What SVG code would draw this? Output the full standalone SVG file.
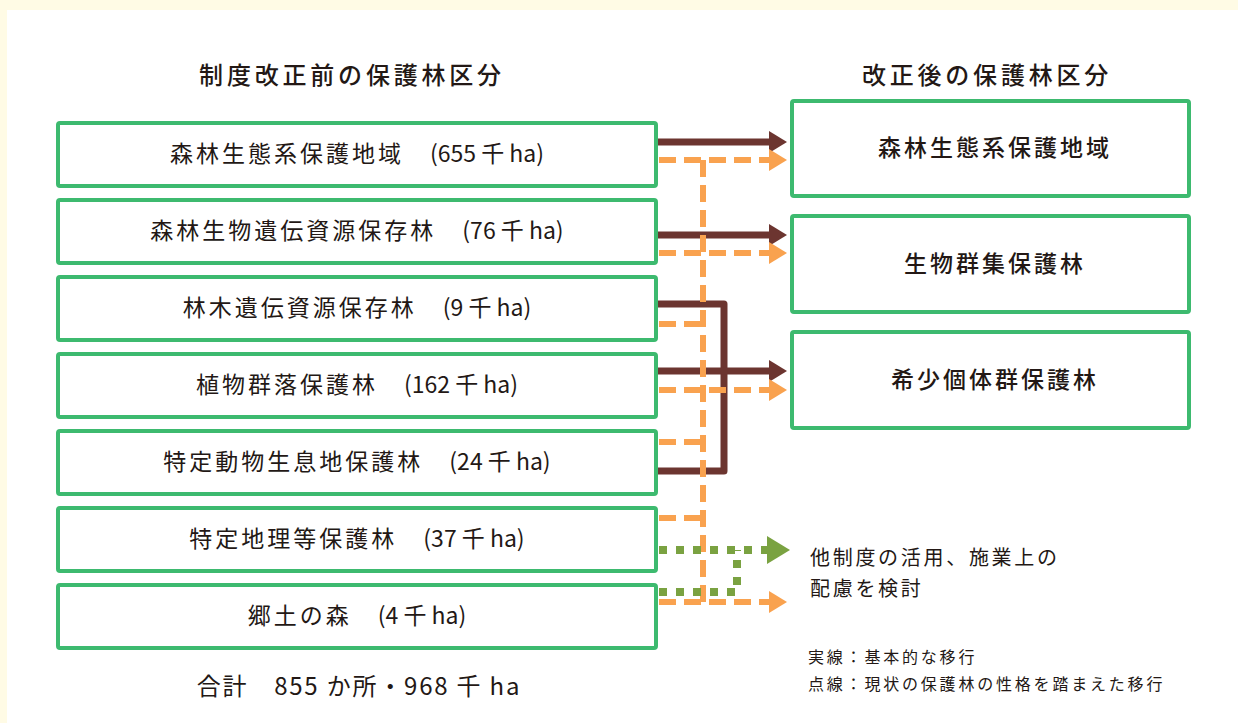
<svg xmlns="http://www.w3.org/2000/svg" width="1238" height="723" viewBox="0 0 1238 723">
  <style>
    .bg { fill: #fffbe5; }
    .panel { fill: #ffffff; }
    .box { fill: #ffffff; stroke: #3dba6f; stroke-width: 4; }
    .t { font-family: "Noto Sans CJK JP", "Noto Sans", sans-serif; fill: #231815; }
    .title { font-size: 24px; letter-spacing: 3.8px; font-weight: 500; }
    .lbl { font-size: 23px; }
    .jp { letter-spacing: 3px; }
    .num { letter-spacing: 0px; }
    .total { font-size: 24px; letter-spacing: 1.8px; }
    .rlbl { font-size: 23px; letter-spacing: 3px; font-weight: 500; }
    .note { font-size: 20px; letter-spacing: 2.7px; }
    .legend { font-size: 16px; letter-spacing: 2.8px; }
    .solid { fill: none; stroke: #6c3530; stroke-width: 7; stroke-linejoin: round; }
    .dash { fill: none; stroke: #f9a24f; stroke-width: 6; stroke-dasharray: 17 8; }
    .dot { fill: none; stroke: #7aa241; stroke-width: 8; stroke-dasharray: 8 9; }
  </style>
  <defs>
    <marker id="ahBrown" markerUnits="userSpaceOnUse" markerWidth="20" markerHeight="24" refX="0" refY="11" orient="auto">
      <path d="M0,0 L18,11 L0,22 z" fill="#6c3530"/>
    </marker>
    <marker id="ahOrange" markerUnits="userSpaceOnUse" markerWidth="20" markerHeight="24" refX="0" refY="11" orient="auto">
      <path d="M0,0 L18,11 L0,22 z" fill="#f9a24f"/>
    </marker>
    <marker id="ahGreen" markerUnits="userSpaceOnUse" markerWidth="26" markerHeight="30" refX="0" refY="14" orient="auto">
      <path d="M0,0 L23,14 L0,28 z" fill="#7aa241"/>
    </marker>
  </defs>

  <rect class="bg" x="0" y="0" width="1238" height="723"/>
  <rect class="panel" x="7" y="10" width="1231" height="713"/>

  <text class="t title" x="352" y="84" text-anchor="middle">制度改正前の保護林区分</text>
  <text class="t title" x="987" y="84" text-anchor="middle">改正後の保護林区分</text>

  <g id="connectors">
    <!-- solid: basic transitions -->
    <line class="solid" x1="658" y1="142" x2="769" y2="142" marker-end="url(#ahBrown)"/>
    <line class="solid" x1="658" y1="235" x2="769" y2="235" marker-end="url(#ahBrown)"/>
    <path class="solid" d="M658,304 H724 V471 H658"/>
    <line class="solid" x1="658" y1="371" x2="769" y2="371" marker-end="url(#ahBrown)"/>
    <!-- dashed: transitions considering character -->
    <line class="dash" x1="659" y1="160" x2="769" y2="160" marker-end="url(#ahOrange)"/>
    <line class="dash" x1="659" y1="253" x2="769" y2="253" marker-end="url(#ahOrange)"/>
    <line class="dash" x1="659" y1="390" x2="769" y2="390" marker-end="url(#ahOrange)"/>
    <line class="dash" x1="659" y1="602" x2="769" y2="602" marker-end="url(#ahOrange)"/>
    <line class="dash" x1="703" y1="160" x2="703" y2="602"/>
    <line class="dash" x1="659" y1="324" x2="703" y2="324"/>
    <line class="dash" x1="659" y1="442" x2="703" y2="442"/>
    <line class="dash" x1="659" y1="518" x2="703" y2="518"/>
    <!-- dotted: other systems -->
    <line class="dot" x1="659" y1="550" x2="767" y2="550" marker-end="url(#ahGreen)"/>
    <path class="dot" d="M659,592 H737 V550"/>
  </g>

  <g id="old-1">
    <rect class="box" x="58" y="123" width="598" height="63" rx="2"/>
    <text class="t lbl" x="357" y="162" text-anchor="middle"><tspan class="jp">森林生態系保護地域　</tspan><tspan class="num">(655 千 ha)</tspan></text>
  </g>
  <g id="old-2">
    <rect class="box" x="58" y="200" width="598" height="63" rx="2"/>
    <text class="t lbl" x="357" y="239" text-anchor="middle"><tspan class="jp">森林生物遺伝資源保存林　</tspan><tspan class="num">(76 千 ha)</tspan></text>
  </g>
  <g id="old-3">
    <rect class="box" x="58" y="277" width="598" height="63" rx="2"/>
    <text class="t lbl" x="357" y="316" text-anchor="middle"><tspan class="jp">林木遺伝資源保存林　</tspan><tspan class="num">(9 千 ha)</tspan></text>
  </g>
  <g id="old-4">
    <rect class="box" x="58" y="354" width="598" height="63" rx="2"/>
    <text class="t lbl" x="357" y="393" text-anchor="middle"><tspan class="jp">植物群落保護林　</tspan><tspan class="num">(162 千 ha)</tspan></text>
  </g>
  <g id="old-5">
    <rect class="box" x="58" y="431" width="598" height="63" rx="2"/>
    <text class="t lbl" x="357" y="470" text-anchor="middle"><tspan class="jp">特定動物生息地保護林　</tspan><tspan class="num">(24 千 ha)</tspan></text>
  </g>
  <g id="old-6">
    <rect class="box" x="58" y="508" width="598" height="63" rx="2"/>
    <text class="t lbl" x="357" y="547" text-anchor="middle"><tspan class="jp">特定地理等保護林　</tspan><tspan class="num">(37 千 ha)</tspan></text>
  </g>
  <g id="old-7">
    <rect class="box" x="58" y="585" width="598" height="63" rx="2"/>
    <text class="t lbl" x="357" y="624" text-anchor="middle"><tspan class="jp">郷土の森　</tspan><tspan class="num">(4 千 ha)</tspan></text>
  </g>

  <text class="t total" x="359" y="695" text-anchor="middle">合計　855 か所・968 千 ha</text>

  <g id="new-1">
    <rect class="box" x="792" y="101" width="397" height="95" rx="2"/>
    <text class="t rlbl" x="995" y="156" text-anchor="middle">森林生態系保護地域</text>
  </g>
  <g id="new-2">
    <rect class="box" x="792" y="216" width="397" height="96" rx="2"/>
    <text class="t rlbl" x="995" y="272" text-anchor="middle">生物群集保護林</text>
  </g>
  <g id="new-3">
    <rect class="box" x="792" y="332" width="397" height="96" rx="2"/>
    <text class="t rlbl" x="995" y="388" text-anchor="middle">希少個体群保護林</text>
  </g>

  <g id="note-other">
    <text class="t note" x="810" y="565">他制度の活用、施業上の</text>
    <text class="t note" x="810" y="596">配慮を検討</text>
  </g>

  <g id="legend">
    <text class="t legend" x="808" y="663">実線：基本的な移行</text>
    <text class="t legend" x="808" y="690">点線：現状の保護林の性格を踏まえた移行</text>
  </g>
</svg>
